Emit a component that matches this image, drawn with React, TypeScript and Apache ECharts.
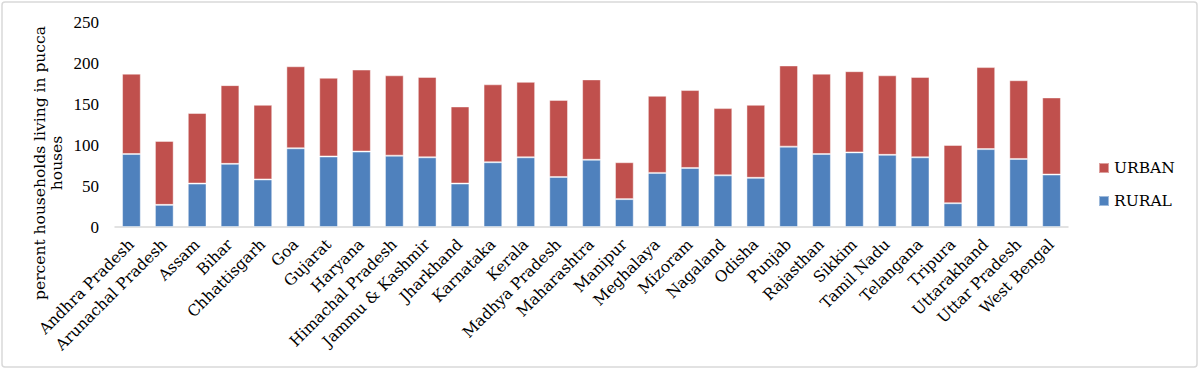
import React, { useEffect, useRef } from "react";
import * as echarts from "echarts";

const states = [
  "Andhra Pradesh", "Arunachal Pradesh", "Assam", "Bihar", "Chhattisgarh", "Goa",
  "Gujarat", "Haryana", "Himachal Pradesh", "Jammu & Kashmir", "Jharkhand", "Karnataka",
  "Kerala", "Madhya Pradesh", "Maharashtra", "Manipur", "Meghalaya", "Mizoram",
  "Nagaland", "Odisha", "Punjab", "Rajasthan", "Sikkim", "Tamil Nadu", "Telangana",
  "Tripura", "Uttarakhand", "Uttar Pradesh", "West Bengal",
];

const rural = [
  89, 27, 53, 77, 58, 96, 86, 92, 87, 85, 53, 79, 85, 61, 82, 34, 66, 72, 63, 60,
  98, 89, 91, 88, 85, 29, 95, 83, 64,
];

const urban = [
  98, 78, 86, 96, 91, 100, 96, 100, 98, 98, 94, 95, 92, 94, 98, 45, 94, 95, 82, 89,
  99, 98, 99, 97, 98, 71, 100, 96, 94,
];

const yTicks = { min: 0, max: 250, interval: 50 };
const axisTitle = "percent households living in pucca\nhouses";

const FONT = '"DejaVu Serif", serif';

export default function App() {
  const ref = useRef<HTMLDivElement>(null);
  useEffect(() => {
    if (!ref.current) return;
    const chart = echarts.init(ref.current, undefined, { renderer: "svg" });
    chart.setOption({
      animation: false,
      backgroundColor: "#fff",
      grid: { left: 115, right: 132, top: 22, bottom: 144 },
      legend: {
        data: ["URBAN", "RURAL"],
        orient: "vertical",
        left: 1098,
        top: 160,
        padding: 0,
        itemWidth: 10,
        itemHeight: 10,
        itemGap: 17,
        icon: "rect",
        textStyle: { fontFamily: FONT, fontSize: 15.5, color: "#000", lineHeight: 16 },
      },
      xAxis: {
        type: "category",
        data: states,
        axisLine: { lineStyle: { color: "#d9d9d9", width: 1.5 } },
        axisTick: { show: false },
        axisLabel: {
          interval: 0,
          rotate: 45,
          margin: 15,
          fontFamily: FONT,
          fontSize: 15.5,
          color: "#000",
        },
      },
      yAxis: {
        type: "value",
        min: yTicks.min,
        max: yTicks.max,
        interval: yTicks.interval,
        axisLine: { show: false },
        axisTick: { show: false },
        splitLine: { show: false },
        axisLabel: {
          margin: 16,
          fontFamily: '"Liberation Serif", serif',
          fontSize: 17,
          color: "#000",
        },
      },
      graphic: [
        {
          type: "rect",
          shape: { x: 2, y: 2, width: 1195, height: 365, r: 3 },
          style: { fill: "none", stroke: "#d9d9d9", lineWidth: 1.5 },
          silent: true,
        },
        {
          type: "text",
          x: 48,
          y: 163,
          rotation: Math.PI / 2,
          style: {
            text: axisTitle,
            font: '15.5px "DejaVu Serif", serif',
            fill: "#000",
            textAlign: "center",
            textVerticalAlign: "middle",
            lineHeight: 17,
          },
        },
      ],
      series: [
        {
          name: "RURAL",
          type: "bar",
          stack: "total",
          data: rural,
          barWidth: "57%",
          itemStyle: { color: "#4F81BD", borderColor: "rgba(255,255,255,0.45)", borderWidth: 1 },
        },
        {
          name: "URBAN",
          type: "bar",
          stack: "total",
          data: urban,
          barWidth: "57%",
          itemStyle: { color: "#C0504D", borderColor: "rgba(255,255,255,0.45)", borderWidth: 1 },
        },
      ],
    });
    return () => chart.dispose();
  }, []);
  return (
    <div
      ref={ref}
      style={{ position: "absolute", left: 0, top: 0, width: 1200, height: 371 }}
    />
  );
}
